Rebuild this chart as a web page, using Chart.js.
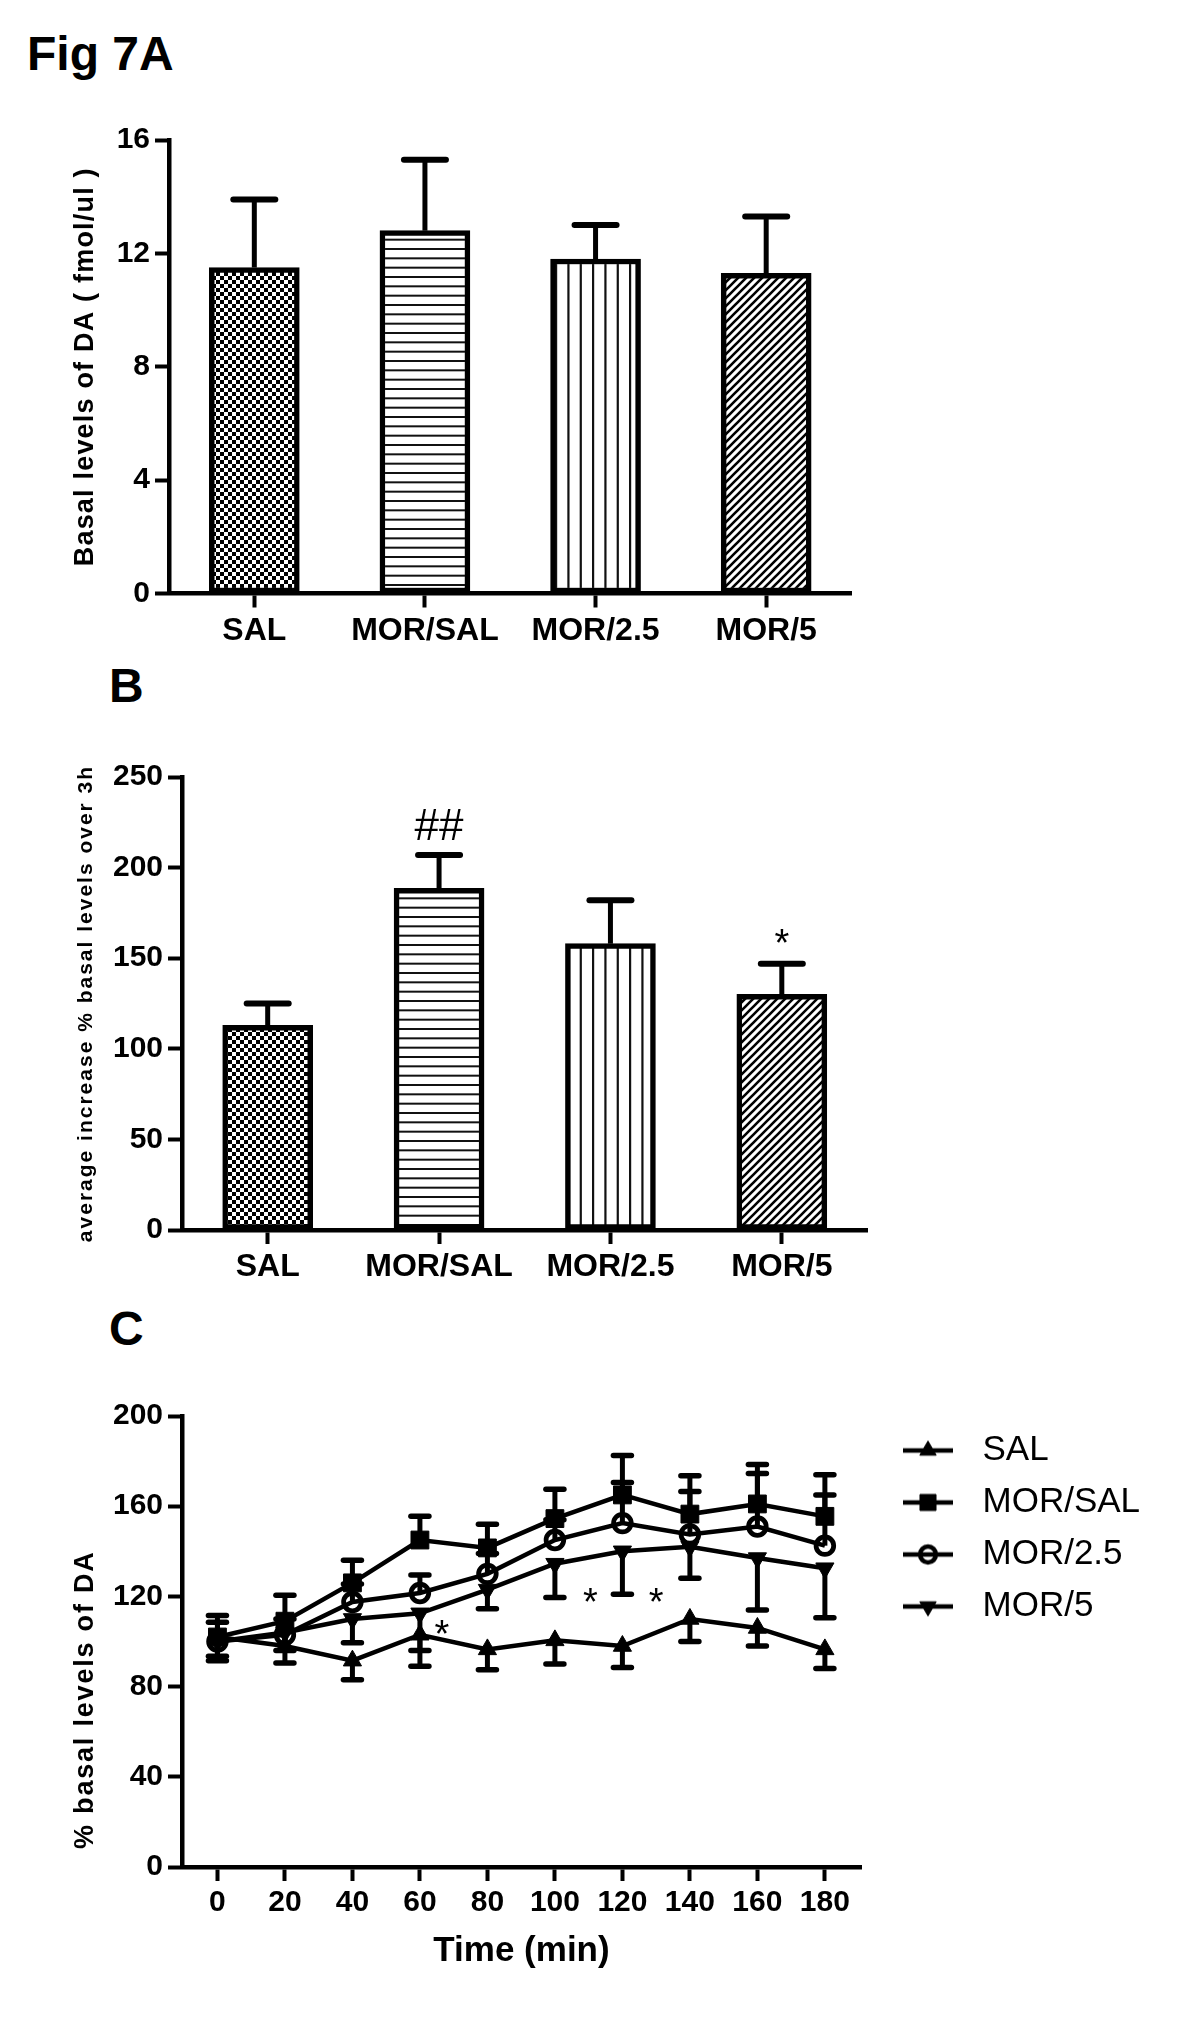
<!DOCTYPE html>
<html lang="en">
<head>
<meta charset="UTF-8">
<title>Fig 7</title>
<script src="https://cdn.jsdelivr.net/npm/chart.js@4.4.0/dist/chart.umd.min.js"></script>
<style>
    * { margin: 0; padding: 0; box-sizing: border-box; }
    body {
        width: 1200px;
        height: 2029px;
        position: relative;
        overflow: hidden;
        background: #fff;
        font-family: 'Liberation Sans', Arial, sans-serif;
    }
    .panel-label {
        position: absolute;
        font-size: 48px;
        line-height: 48px;
        font-weight: bold;
        color: #000;
    }
    canvas { position: absolute; left: 0; }
</style>
</head>
<body>
<div class="panel-label" style="left:27px; top:30px;">Fig 7A</div>
<div class="panel-label" style="left:109px; top:662px;">B</div>
<div class="panel-label" style="left:109px; top:1305px;">C</div>

<canvas id="chartA" width="1200" height="600" style="top:80px"></canvas>
<canvas id="chartB" width="1200" height="600" style="top:720px"></canvas>
<canvas id="chartC" width="1200" height="659" style="top:1370px"></canvas>

<script>
    // ---- data ----
    const groupLabels = ['SAL', 'MOR/SAL', 'MOR/2.5', 'MOR/5'];

    // A: basal DA levels (fmol/ul), mean and SEM
    const basalMean = [11.5, 12.8, 11.8, 11.3];
    const basalSem = [2.4, 2.5, 1.2, 2.0];
    const basalTicks = [0, 4, 8, 12, 16];

    // B: average increase % basal over 3h
    const increaseMean = [113, 188.5, 158, 130];
    const increaseSem = [12, 18.5, 24, 17];
    const increaseTicks = [0, 50, 100, 150, 200, 250];
    const increaseMarks = [
        { at: 1, value: 222, text: '##' },
        { at: 3, value: 157, text: '*' }
    ];

    // C: time course, % basal DA
    const timePoints = [0, 20, 40, 60, 80, 100, 120, 140, 160, 180];
    const seriesNames = ['SAL', 'MOR/SAL', 'MOR/2.5', 'MOR/5'];
    const salMean = [102, 98, 91.5, 103, 96.5, 100.5, 98, 110, 106, 96.5];
    const salSem = [8.5, 7.5, 8.5, 7, 9, 10.5, 9.5, 10, 8, 8.5];
    const morSalMean = [102, 109, 126, 145, 141.5, 154.5, 165, 156.5, 161, 155.5];
    const morSalSem = [9.5, 11.5, 10, 10.5, 10.5, 13, 17.5, 17, 17.5, 18.5];
    const mor25Mean = [100, 103, 117.5, 121.5, 130, 145, 152.5, 147.5, 151, 142.5];
    const mor25Sem = [8.5, 7, 8, 8, 9, 9, 18, 19, 23.5, 22.5];
    const mor5Mean = [100, 104, 110, 112.5, 123, 134.5, 140, 142, 137, 132.5];
    const mor5Sem = [8.5, 8, 10.5, 23.5, 8.5, 15, 19, 14, 23, 22];
    const errDirection = [-1, 1, 1, -1];
    const percentTicks = [0, 40, 80, 120, 160, 200];
    const timeMarks = [
        { at: 66.5, value: 102, text: '*' },
        { at: 110.5, value: 116.5, text: '*' },
        { at: 130, value: 116.5, text: '*' }
    ];

    // ---- shared style ----
    const BLACK = '#000';
    const FONT = "'Liberation Sans', Arial, sans-serif";
    Chart.defaults.font.family = FONT;
    Chart.defaults.color = BLACK;
    Chart.defaults.animation = false;

    function hatch(kind) {
        const c = document.createElement('canvas');
        const g = c.getContext('2d');
        if (kind === 'checker') {
            c.width = 8; c.height = 8;
            g.fillStyle = '#fff'; g.fillRect(0, 0, 8, 8);
            g.fillStyle = BLACK;
            g.fillRect(0, 0, 4, 4); g.fillRect(4, 4, 4, 4);
        } else if (kind === 'horizontal') {
            c.width = 8; c.height = 28;
            g.fillStyle = '#fff'; g.fillRect(0, 0, 8, 28);
            g.fillStyle = '#111';
            [0, 9.33, 18.67].forEach(y => g.fillRect(0, y, 8, 2));
        } else if (kind === 'vertical') {
            c.width = 37; c.height = 8;
            g.fillStyle = '#fff'; g.fillRect(0, 0, 37, 8);
            g.fillStyle = '#111';
            [0, 12.33, 24.67].forEach(x => g.fillRect(x, 0, 2.2, 8));
        } else {
            c.width = 8; c.height = 8;
            g.fillStyle = '#fff'; g.fillRect(0, 0, 8, 8);
            g.strokeStyle = BLACK; g.lineWidth = 2.6;
            g.beginPath();
            g.moveTo(0, 8); g.lineTo(8, 0);
            g.moveTo(-2, 2); g.lineTo(2, -2);
            g.moveTo(6, 10); g.lineTo(10, 6);
            g.stroke();
        }
        return g.createPattern(c, 'repeat');
    }
    const barFills = ['checker', 'horizontal', 'vertical', 'diagonal'].map(hatch);

    // letter-spaced y axis title (GraphPad look)
    const spacedTitle = {
        id: 'spacedTitle',
        afterLayout(chart, args, opts) {
            const s = chart.scales.y;
            if (!s || s._spaced) return;
            s._spaced = true;
            const orig = s.drawTitle;
            s.drawTitle = function () {
                const top = this.top, bottom = this.bottom;
                this.ctx.save();
                this.ctx.letterSpacing = opts.spacing + 'px';
                this.top -= opts.extendTop; this.bottom += opts.extendBottom;
                orig.call(this);
                this.top = top; this.bottom = bottom;
                this.ctx.restore();
            };
        }
    };

    function errorBars(sets, capLength, stemWidth, capWidth) {
        return {
            id: 'errorBars',
            afterDatasetsDraw(chart) {
                const ctx = chart.ctx, y = chart.scales.y;
                ctx.save();
                ctx.strokeStyle = BLACK;
                sets.forEach(set => {
                    chart.getDatasetMeta(set.dataset).data.forEach((el, i) => {
                        const from = y.getPixelForValue(set.mean[i]);
                        const to = y.getPixelForValue(set.mean[i] + set.dir * set.sem[i]);
                        ctx.lineCap = 'butt'; ctx.lineWidth = stemWidth;
                        ctx.beginPath(); ctx.moveTo(el.x, from); ctx.lineTo(el.x, to); ctx.stroke();
                        ctx.lineCap = 'round'; ctx.lineWidth = capWidth;
                        ctx.beginPath();
                        ctx.moveTo(el.x - capLength / 2, to); ctx.lineTo(el.x + capLength / 2, to);
                        ctx.stroke();
                    });
                });
                ctx.restore();
            }
        };
    }

    function textMarks(marks, font) {
        return {
            id: 'textMarks',
            afterDatasetsDraw(chart) {
                const ctx = chart.ctx;
                ctx.save();
                ctx.fillStyle = BLACK;
                ctx.textAlign = 'center';
                ctx.textBaseline = 'middle';
                marks.forEach(m => {
                    ctx.font = m.text === '##' ? '44px ' + FONT : font;
                    ctx.fillText(m.text, chart.scales.x.getPixelForValue(m.at), chart.scales.y.getPixelForValue(m.value));
                });
                ctx.restore();
            }
        };
    }

    const tickGrid = { offset: false, drawOnChartArea: false, drawTicks: true, tickLength: 14, tickWidth: 4, tickColor: BLACK };
    const axisBorder = { display: true, color: BLACK, width: 4.5 };

    // title centre sits ~86px from the page edge
    const titlePad = size => ({ top: 86 - size * 0.6, bottom: 0 });

    function barChart(id, means, sems, ticks, title, titleSize, spacing, box, marks) {
        return new Chart(document.getElementById(id), {
            type: 'bar',
            data: {
                labels: groupLabels,
                datasets: [{
                    data: means,
                    backgroundColor: barFills,
                    borderColor: BLACK,
                    borderWidth: 5.5,
                    borderSkipped: false,
                    barThickness: 90
                }]
            },
            options: {
                responsive: false,
                layout: { padding: { left: 0, top: box.top, right: box.right, bottom: 0 } },
                scales: {
                    x: {
                        afterFit: s => { s.height = box.bottom; },
                        ticks: { font: { size: 32, weight: 'bold' }, color: BLACK, padding: 4, maxRotation: 0, autoSkip: false },
                        grid: tickGrid,
                        border: axisBorder
                    },
                    y: {
                        min: ticks[0],
                        max: ticks[ticks.length - 1],
                        afterFit: s => { s.width = box.left; },
                        afterBuildTicks: s => { s.ticks = ticks.map(v => ({ value: v })); },
                        ticks: { font: { size: 30, weight: 'bold' }, color: BLACK, padding: 5 },
                        grid: tickGrid,
                        border: axisBorder,
                        title: {
                            display: true,
                            text: title,
                            color: BLACK,
                            font: { size: titleSize, weight: 'bold' },
                            padding: titlePad(titleSize)
                        }
                    }
                },
                plugins: {
                    legend: { display: false },
                    tooltip: { enabled: false },
                    spacedTitle: spacing
                }
            },
            plugins: [
                spacedTitle,
                errorBars([{ dataset: 0, mean: means, sem: sems, dir: 1 }], 42, 5, 6),
                textMarks(marks, '38px ' + FONT)
            ]
        });
    }

    // Panel A
    barChart('chartA', basalMean, basalSem, basalTicks,
        'Basal levels of DA ( fmol/ul )', 27, { spacing: 1.2, extendTop: 0, extendBottom: 0 },
        { left: 169, top: 60, right: 348.5, bottom: 86.5 }, []);

    // Panel B
    barChart('chartB', increaseMean, increaseSem, increaseTicks,
        'average increase % basal levels over 3h', 21, { spacing: 2.0, extendTop: 30, extendBottom: 30 },
        { left: 182, top: 57, right: 332.5, bottom: 90 }, increaseMarks);

    // Panel C
    const cMeans = [salMean, morSalMean, mor25Mean, mor5Mean];
    const cSems = [salSem, morSalSem, mor25Sem, mor5Sem];
    const markerStyles = [
        { pointStyle: 'triangle', rotation: 0, radius: 10.5, hollow: false },
        { pointStyle: 'rect', rotation: 0, radius: 12.6, hollow: false },
        { pointStyle: 'circle', rotation: 0, radius: 8.8, hollow: true },
        { pointStyle: 'triangle', rotation: 180, radius: 10.5, hollow: false }
    ];

    function legendIcon(m) {
        const c = document.createElement('canvas');
        c.width = 87; c.height = 34;
        const g = c.getContext('2d');
        g.strokeStyle = BLACK;
        g.lineWidth = 4.5;
        g.beginPath(); g.moveTo(25, 17); g.lineTo(75, 17); g.stroke();
        g.fillStyle = m.hollow ? 'rgba(0,0,0,0)' : BLACK;
        g.lineWidth = m.hollow ? 4.5 : 1;
        Chart.helpers.drawPoint(g, { pointStyle: m.pointStyle, rotation: m.rotation, radius: m.radius * 0.9, borderWidth: g.lineWidth }, 50, 17);
        return c;
    }
    const legendIcons = markerStyles.map(legendIcon);

    new Chart(document.getElementById('chartC'), {
        type: 'line',
        data: {
            datasets: seriesNames.map((name, k) => ({
                label: name,
                data: timePoints.map((t, i) => ({ x: t, y: cMeans[k][i] })),
                borderColor: BLACK,
                borderWidth: 4.5,
                tension: 0,
                fill: false,
                pointStyle: markerStyles[k].pointStyle,
                pointRotation: markerStyles[k].rotation,
                pointRadius: markerStyles[k].radius,
                pointBackgroundColor: markerStyles[k].hollow ? 'rgba(0,0,0,0)' : BLACK,
                pointBorderColor: BLACK,
                pointBorderWidth: markerStyles[k].hollow ? 4.8 : 1
            }))
        },
        options: {
            responsive: false,
            layout: { padding: { left: 0, top: 46, right: 52, bottom: 0 } },
            scales: {
                x: {
                    type: 'linear',
                    min: -10.5,
                    max: 190.7,
                    afterFit: s => { s.height = 162; },
                    afterBuildTicks: s => { s.ticks = timePoints.map(v => ({ value: v })); },
                    ticks: { font: { size: 30, weight: 'bold' }, color: BLACK, padding: 4, maxRotation: 0, autoSkip: false },
                    grid: tickGrid,
                    border: axisBorder,
                    title: {
                        display: true,
                        text: 'Time (min)',
                        color: BLACK,
                        font: { size: 35, weight: 'bold' },
                        padding: { top: 0, bottom: 57 }
                    }
                },
                y: {
                    min: percentTicks[0],
                    max: percentTicks[percentTicks.length - 1],
                    afterFit: s => { s.width = 182; },
                    afterBuildTicks: s => { s.ticks = percentTicks.map(v => ({ value: v })); },
                    ticks: { font: { size: 30, weight: 'bold' }, color: BLACK, padding: 5 },
                    grid: tickGrid,
                    border: axisBorder,
                    title: {
                        display: true,
                        text: '% basal levels of DA',
                        align: 'start',
                        color: BLACK,
                        font: { size: 27, weight: 'bold' },
                        padding: titlePad(27)
                    }
                }
            },
            plugins: {
                tooltip: { enabled: false },
                spacedTitle: { spacing: 1.8, extendTop: 0, extendBottom: -18 },
                legend: {
                    position: 'right',
                    align: 'start',
                    labels: {
                        usePointStyle: true,
                        pointStyleWidth: 87,
                        padding: 17,
                        color: BLACK,
                        font: { size: 35 },
                        generateLabels: chart => chart.data.datasets.map((ds, i) => ({
                            text: ds.label,
                            pointStyle: legendIcons[i],
                            fillStyle: 'rgba(0,0,0,0)',
                            strokeStyle: 'rgba(0,0,0,0)',
                            lineWidth: 0,
                            hidden: false,
                            datasetIndex: i,
                            fontColor: BLACK
                        }))
                    }
                }
            }
        },
        plugins: [
            spacedTitle,
            errorBars(seriesNames.map((n, k) => ({ dataset: k, mean: cMeans[k], sem: cSems[k], dir: errDirection[k] })), 18, 5, 5.5),
            textMarks(timeMarks, '38px ' + FONT)
        ]
    });
</script>
</body>
</html>
